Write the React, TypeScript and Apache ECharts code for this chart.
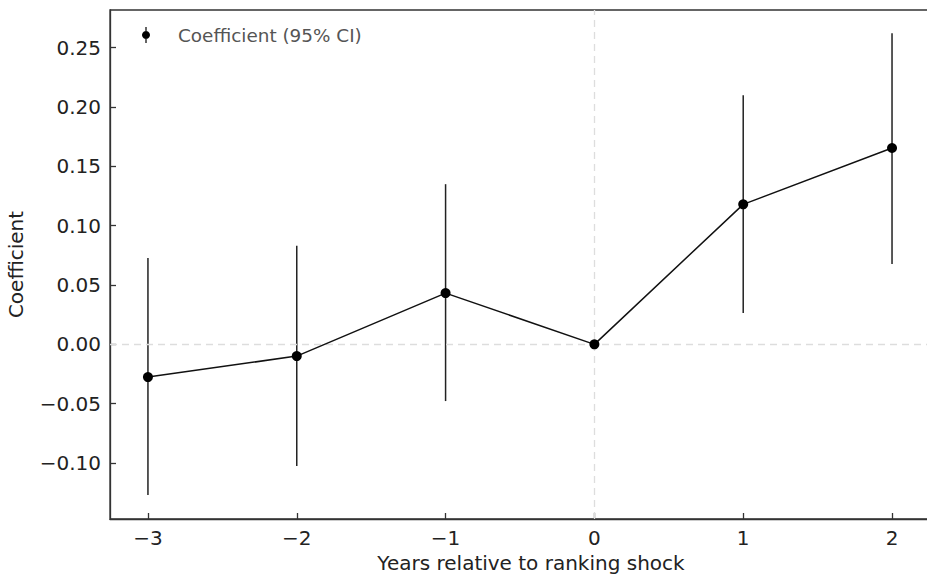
import React, { useEffect, useRef } from "react";
import * as echarts from "echarts";

const years = [-3, -2, -1, 0, 1, 2];
const coef = [-0.0276, -0.0099, 0.0432, 0.0, 0.118, 0.1655];
const ciLow = [-0.127, -0.1025, -0.0478, 0.0, 0.0264, 0.0677];
const ciHigh = [0.0727, 0.083, 0.135, 0.0, 0.21, 0.2623];
const xTicks = [-3, -2, -1, 0, 1, 2];
const yTicks = [-0.1, -0.05, 0, 0.05, 0.1, 0.15, 0.2, 0.25];

const FONT = "DejaVu Sans";
const minus = (s: string) => s.replace("-", "\u2212");

export default function App() {
  const ref = useRef<HTMLDivElement>(null);
  useEffect(() => {
    if (!ref.current) return;
    const chart = echarts.init(ref.current, undefined, { renderer: "svg" });
    const pts = years.map((x, i) => [x, coef[i]]);
    const bars = years.map((x, i) => [x, ciLow[i], ciHigh[i]]);
    chart.setOption({
      animation: false,
      backgroundColor: "#ffffff",
      textStyle: { fontFamily: FONT },
      grid: {
        left: 110,
        width: 842,
        top: 10,
        bottom: 61,
        outerBoundsMode: "none",
        containLabel: false,
        show: true,
        borderColor: "#333333",
        borderWidth: 1.3,
        backgroundColor: "transparent",
      },
      legend: {
        data: ["Coefficient (95% CI)"],
        left: 137,
        top: 21,
        itemWidth: 58,
        itemHeight: 16,
        icon: "path://M3.4,0 H4.6 V16 H3.4 Z M4,4 A4,4 0 1 1 3.99,4 Z",
        itemStyle: { color: "#000000" },
        textStyle: {
          fontFamily: FONT,
          fontSize: 18.4,
          color: "#555555",
          padding: [0, 0, 0, -2],
        },
      },
      xAxis: {
        type: "value",
        min: -3.255,
        max: 2.403,
        name: "Years relative to ranking shock",
        nameLocation: "middle",
        nameGap: 34,
        nameTextStyle: { fontFamily: FONT, fontSize: 20, color: "#222222" },
        axisLine: {
          show: true,
          onZero: false,
          lineStyle: { color: "#333333", width: 1.3 },
        },
        axisTick: {
          show: true,
          inside: true,
          length: 6,
          customValues: xTicks,
          lineStyle: { color: "#333333", width: 1.3 },
        },
        axisLabel: {
          customValues: xTicks,
          fontFamily: FONT,
          fontSize: 20,
          color: "#222222",
          margin: 9,
          formatter: (v: number) => minus(String(v)),
        },
        splitLine: { show: false },
      },
      yAxis: {
        type: "value",
        min: -0.1472,
        max: 0.2818,
        name: "Coefficient",
        nameLocation: "middle",
        nameGap: 84,
        nameTextStyle: { fontFamily: FONT, fontSize: 20, color: "#222222" },
        axisLine: {
          show: true,
          onZero: false,
          lineStyle: { color: "#333333", width: 1.3 },
        },
        axisTick: {
          show: true,
          inside: true,
          length: 6,
          customValues: yTicks,
          lineStyle: { color: "#333333", width: 1.3 },
        },
        axisLabel: {
          customValues: yTicks,
          fontFamily: FONT,
          fontSize: 20,
          color: "#222222",
          margin: 9,
          formatter: (v: number) => minus(v.toFixed(2)),
        },
        splitLine: { show: false },
      },
      series: [
        {
          name: "Coefficient (95% CI)",
          type: "line",
          data: pts,
          symbol: "circle",
          symbolSize: 10,
          itemStyle: { color: "#000000" },
          lineStyle: { color: "#111111", width: 1.5 },
          z: 5,
          markLine: {
            silent: true,
            symbol: "none",
            label: { show: false },
            lineStyle: { color: "#dddddd", type: [7, 5], width: 1.3 },
            data: [{ xAxis: 0 }, { yAxis: 0 }],
          },
        },
        {
          name: "ci",
          type: "custom",
          data: bars,
          z: 4,
          renderItem: (_params: any, api: any) => {
            const x = api.value(0);
            const p1 = api.coord([x, api.value(1)]);
            const p2 = api.coord([x, api.value(2)]);
            return {
              type: "line",
              shape: { x1: p1[0], y1: p1[1], x2: p2[0], y2: p2[1] },
              style: { stroke: "#222222", lineWidth: 1.5 },
            };
          },
        },
      ],
    });
    return () => chart.dispose();
  }, []);
  return (
    <div
      ref={ref}
      style={{ position: "fixed", left: 0, top: 0, width: 927, height: 580 }}
    />
  );
}
